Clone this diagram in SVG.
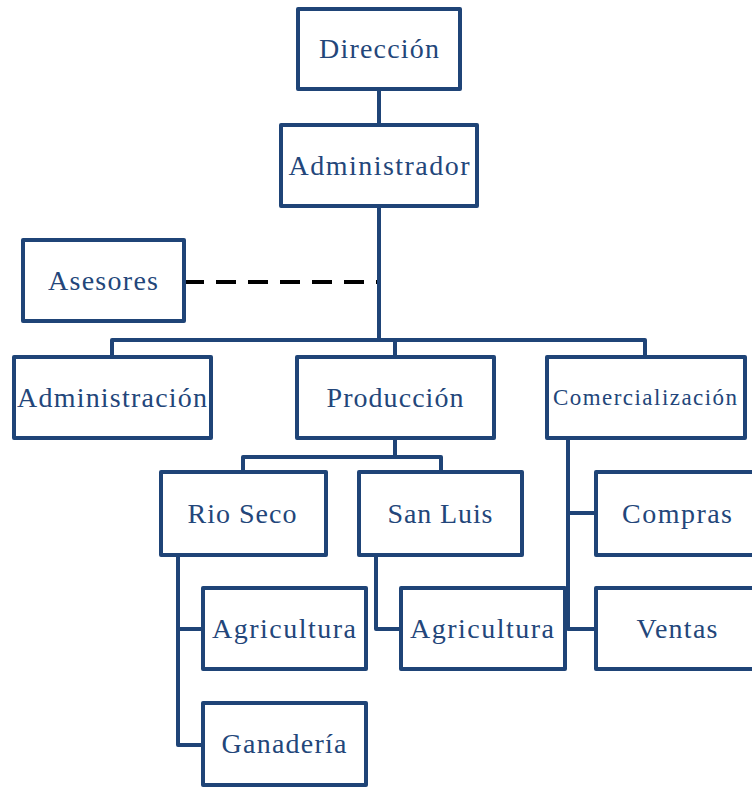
<svg xmlns="http://www.w3.org/2000/svg" width="752" height="787" viewBox="0 0 752 787">
  <style>
    .box { fill: #ffffff; stroke: #1F4477; stroke-width: 4; stroke-linejoin: round; }
    .lbl { font-family: "Liberation Serif", "Times New Roman", serif; font-size: 28px; fill: #23467A; text-anchor: middle; }
    .small { font-size: 23px; }
    .link { fill: none; stroke: #1F4477; stroke-width: 4; stroke-linejoin: round; }
    .advice { fill: none; stroke: #000000; stroke-width: 4; stroke-dasharray: 20 12; }
  </style>

  <!-- connectors -->
  <g id="connectors">
    <path class="link" d="M379,89 V125"/>
    <path class="link" d="M379,206 V340"/>
    <path class="link" d="M112,357 V340 H645 V357"/>
    <path class="link" d="M395,340 V357"/>
    <path class="advice" d="M184,282 H377"/>
    <path class="link" d="M395,438 V457"/>
    <path class="link" d="M243,472 V457 H441 V472"/>
    <path class="link" d="M178,555 V745 H203"/>
    <path class="link" d="M178,629 H203"/>
    <path class="link" d="M376,555 V629 H401"/>
    <path class="link" d="M568,438 V629 H596"/>
    <path class="link" d="M568,513 H596"/>
  </g>

  <g id="direccion">
    <rect class="box" x="298" y="9" width="162" height="80"/>
    <text class="lbl" x="379" y="58" textLength="120" lengthAdjust="spacing">Dirección</text>
  </g>
  <g id="administrador">
    <rect class="box" x="281" y="125" width="196" height="81"/>
    <text class="lbl" x="379" y="175" textLength="181" lengthAdjust="spacing">Administrador</text>
  </g>
  <g id="asesores">
    <rect class="box" x="23" y="240" width="161" height="81"/>
    <text class="lbl" x="103" y="290" textLength="110" lengthAdjust="spacing">Asesores</text>
  </g>
  <g id="administracion">
    <rect class="box" x="14" y="357" width="197" height="81"/>
    <text class="lbl" x="112" y="407" textLength="190" lengthAdjust="spacing">Administración</text>
  </g>
  <g id="produccion">
    <rect class="box" x="297" y="357" width="197" height="81"/>
    <text class="lbl" x="395" y="407" textLength="137" lengthAdjust="spacing">Producción</text>
  </g>
  <g id="comercializacion">
    <rect class="box" x="547" y="357" width="198" height="81"/>
    <text class="lbl small" x="645" y="405" textLength="184" lengthAdjust="spacing">Comercialización</text>
  </g>
  <g id="rio-seco">
    <rect class="box" x="161" y="472" width="165" height="83"/>
    <text class="lbl" x="242" y="523" textLength="109" lengthAdjust="spacing">Rio Seco</text>
  </g>
  <g id="san-luis">
    <rect class="box" x="359" y="472" width="163" height="83"/>
    <text class="lbl" x="440" y="523" textLength="105" lengthAdjust="spacing">San Luis</text>
  </g>
  <g id="compras">
    <rect class="box" x="596" y="472" width="162" height="83"/>
    <text class="lbl" x="677" y="523" textLength="110" lengthAdjust="spacing">Compras</text>
  </g>
  <g id="agricultura-rio-seco">
    <rect class="box" x="203" y="588" width="163" height="81"/>
    <text class="lbl" x="284" y="638" textLength="144" lengthAdjust="spacing">Agricultura</text>
  </g>
  <g id="agricultura-san-luis">
    <rect class="box" x="401" y="588" width="164" height="81"/>
    <text class="lbl" x="482" y="638" textLength="144" lengthAdjust="spacing">Agricultura</text>
  </g>
  <g id="ventas">
    <rect class="box" x="596" y="588" width="162" height="81"/>
    <text class="lbl" x="677" y="638" textLength="81" lengthAdjust="spacing">Ventas</text>
  </g>
  <g id="ganaderia">
    <rect class="box" x="203" y="703" width="163" height="82"/>
    <text class="lbl" x="284" y="753" textLength="125" lengthAdjust="spacing">Ganadería</text>
  </g>
</svg>
